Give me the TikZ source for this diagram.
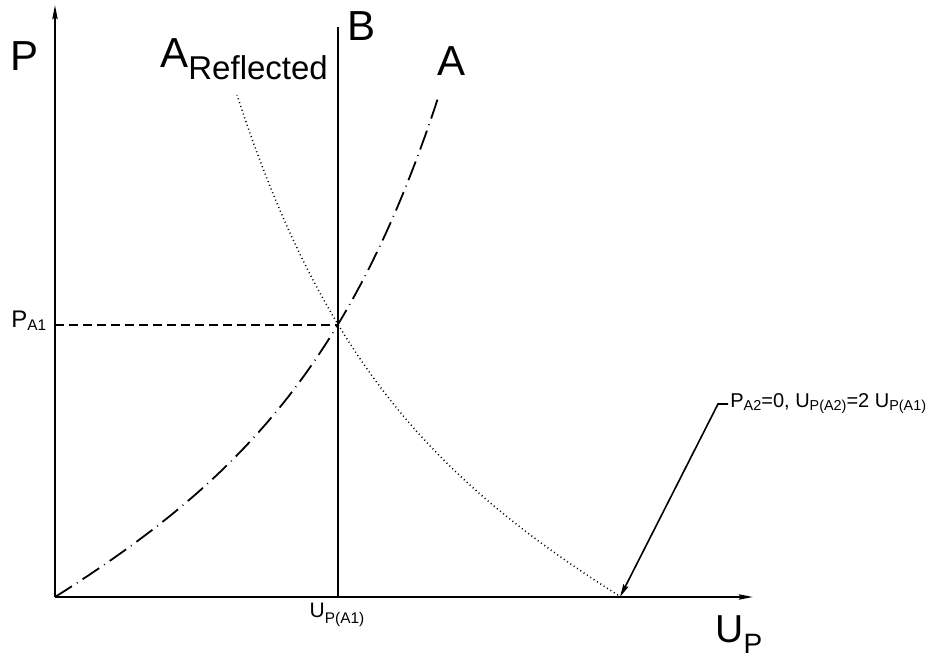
\documentclass[tikz,border=0pt]{standalone}
\usepackage{fontspec}
\setmainfont{Liberation Sans}
\usetikzlibrary{arrows.meta}
\newcommand{\lowsub}[3]{\raisebox{-#1}{\fontsize{#2}{#2}\selectfont #3}}

\begin{document}
\begin{tikzpicture}[x=0.5pt,y=-0.5pt,
    axis/.style={line width=1pt,-{Stealth[length=7pt,width=2.6pt,inset=0.8pt]}},
    wall/.style={line width=0.9pt},
    curveA/.style={line width=0.9pt,dash pattern=on 10pt off 3pt on 0.4pt off 3pt},
    curveR/.style={line width=0.75pt,dash pattern=on 0.5pt off 1.5pt},
    level/.style={line width=0.9pt,dash pattern=on 4.5pt off 2.5pt},
    pointer/.style={line width=0.8pt,-{Stealth[length=6.5pt,width=2.8pt,inset=0.8pt]}},
    big/.style={inner sep=0pt,anchor=base west,font=\fontsize{21}{24}\selectfont},
    small/.style={inner sep=0pt,anchor=base west,font=\fontsize{12}{14}\selectfont}
  ]
    \useasboundingbox (0,0) rectangle (934,659);

    \coordinate (origin) at (55,597);
    \coordinate (yEnd) at (55,5);
    \coordinate (xEnd) at (753,597);
    \coordinate (bTop) at (338,27);
    \coordinate (bFoot) at (338,597);
    \coordinate (pA1) at (55,325);
    \coordinate (cross) at (338,325);
    \coordinate (bend) at (718,404);
    \coordinate (tip) at (620,597);

    \draw[axis] (origin) -- (yEnd);
    \draw[axis] (origin) -- (xEnd);
    \draw[wall] (bTop) -- (bFoot);
    \draw[level] (pA1) -- (cross);

    \draw[curveA] plot[domain=0:384,samples=80]
      ({55+\x},{597-(0.51*\x+14.9*(exp(0.008*\x)-1))});
    \draw[curveR] plot[domain=3:384,samples=80]
      ({621-\x},{597-(0.51*\x+14.9*(exp(0.008*\x)-1))});

    \node[big] (labP) at (10,70) {P};
    \node[big] (labAR) at (160,67) {A\lowsub{6pt}{16.5}{Reflected}};
    \node[big] (labB) at (347,40) {B};
    \node[big] (labA) at (437,75) {A};

    \node[small] (labPA) at (11,327) {P\lowsub{1.5pt}{7.7}{A1}};
    \node[inner sep=0pt,anchor=base,font=\fontsize{10.5}{12}\selectfont]
      (labUA) at (337,617) {U\lowsub{3pt}{7.7}{P(A1)}};
    \node[inner sep=0pt,anchor=base west,font=\fontsize{19.5}{22}\selectfont]
      (labUP) at (715,642) {U\lowsub{5.5pt}{14}{P}};

    \node[inner sep=1pt,anchor=west,font=\fontsize{10}{12}\selectfont]
      (lblEnd) at (728,404)
      {P\lowsub{1.5pt}{7.2}{A2}=0, U\lowsub{1.5pt}{7.2}{P(A2)}=2 U\lowsub{1.5pt}{7.2}{P(A1)}};
    \draw[pointer] (lblEnd.west) -- (bend) -- (tip);
\end{tikzpicture}
\end{document}
